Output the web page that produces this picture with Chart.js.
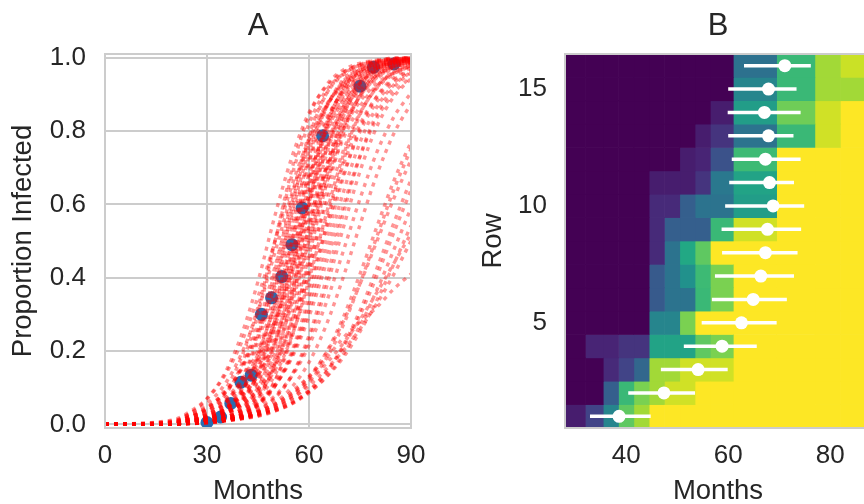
<!DOCTYPE html>
<html>
<head>
<meta charset="utf-8">
<script src="https://cdn.jsdelivr.net/npm/chart.js@4.4.1/dist/chart.umd.min.js"></script>
<style>
  html, body { margin: 0; padding: 0; background: #fff; overflow: hidden; }
  body { width: 864px; height: 504px; position: relative; }
  canvas { position: absolute; top: 0; }
  #chartA { left: 0; }
  #chartB { left: 460px; }
</style>
</head>
<body>
<canvas id="chartA" width="430" height="504"></canvas>
<canvas id="chartB" width="430" height="504"></canvas>
<script>
// ---- panel A: observed proportion + simulated curves ----
const simMonths = [0, 20, 25, 30, 35, 40, 45, 50, 55, 60, 65, 70, 75, 80, 85, 90];
const simCurves = [
    [0, 0.01, 0.03, 0.07, 0.135, 0.24, 0.39, 0.57, 0.73, 0.85, 0.92, 0.96, 0.98, 0.99, 1, 1],
    [0, 0.012, 0.035, 0.07, 0.13, 0.22, 0.348, 0.5, 0.652, 0.777, 0.867, 0.924, 0.958, 0.977, 0.987, 0.993],
    [0, 0.005, 0.02, 0.045, 0.09, 0.18, 0.32, 0.5, 0.68, 0.82, 0.91, 0.955, 0.98, 0.99, 0.995, 1],
    [0, 0.003, 0.015, 0.034, 0.076, 0.159, 0.303, 0.5, 0.697, 0.841, 0.924, 0.966, 0.985, 0.993, 0.997, 1],
    [0, 0.008, 0.03, 0.057, 0.106, 0.19, 0.31, 0.47, 0.63, 0.77, 0.87, 0.925, 0.96, 0.98, 0.99, 0.995],
    [0, 0.002, 0.011, 0.025, 0.056, 0.12, 0.24, 0.42, 0.62, 0.79, 0.9, 0.953, 0.98, 0.99, 0.996, 1],
    [0, 0.005, 0.021, 0.041, 0.081, 0.153, 0.269, 0.43, 0.605, 0.758, 0.865, 0.929, 0.964, 0.982, 0.991, 0.996],
    [0, 0.006, 0.023, 0.044, 0.083, 0.15, 0.256, 0.4, 0.566, 0.717, 0.832, 0.906, 0.949, 0.973, 0.986, 0.993],
    [0, 0.003, 0.013, 0.028, 0.059, 0.119, 0.226, 0.387, 0.577, 0.746, 0.864, 0.932, 0.967, 0.984, 0.993, 0.997],
    [0, 0.001, 0.006, 0.015, 0.037, 0.086, 0.19, 0.367, 0.59, 0.781, 0.899, 0.957, 0.982, 0.993, 0.997, 1],
    [0, 0.007, 0.026, 0.047, 0.085, 0.148, 0.245, 0.378, 0.531, 0.679, 0.798, 0.881, 0.933, 0.963, 0.98, 0.989],
    [0, 0.002, 0.008, 0.018, 0.04, 0.089, 0.182, 0.34, 0.54, 0.73, 0.862, 0.935, 0.971, 0.987, 0.994, 0.997],
    [0, 0.003, 0.014, 0.027, 0.054, 0.105, 0.193, 0.33, 0.5, 0.67, 0.807, 0.895, 0.946, 0.973, 0.986, 0.993],
    [0, 0.002, 0.01, 0.021, 0.044, 0.09, 0.177, 0.317, 0.5, 0.683, 0.823, 0.91, 0.956, 0.979, 0.99, 0.995],
    [0, 0.001, 0.004, 0.01, 0.026, 0.061, 0.14, 0.287, 0.5, 0.713, 0.86, 0.939, 0.974, 0.99, 0.996, 0.998],
    [0, 0.002, 0.008, 0.018, 0.038, 0.079, 0.156, 0.285, 0.46, 0.65, 0.8, 0.896, 0.949, 0.976, 0.989, 0.995],
    [0, 0.001, 0.005, 0.013, 0.029, 0.065, 0.138, 0.269, 0.458, 0.66, 0.818, 0.911, 0.96, 0.982, 0.992, 0.997],
    [0, 0.005, 0.02, 0.037, 0.067, 0.119, 0.202, 0.321, 0.469, 0.622, 0.755, 0.852, 0.915, 0.953, 0.974, 0.986],
    [0, 0.002, 0.01, 0.021, 0.041, 0.081, 0.153, 0.269, 0.43, 0.605, 0.758, 0.865, 0.929, 0.964, 0.982, 0.991],
    [0, 0.003, 0.014, 0.027, 0.051, 0.094, 0.168, 0.283, 0.434, 0.6, 0.744, 0.85, 0.917, 0.956, 0.977, 0.988],
    [0, 0.001, 0.006, 0.016, 0.033, 0.068, 0.136, 0.254, 0.424, 0.613, 0.774, 0.881, 0.941, 0.972, 0.987, 0.994],
    [0, 0.001, 0.003, 0.007, 0.018, 0.043, 0.101, 0.219, 0.41, 0.63, 0.81, 0.914, 0.963, 0.985, 0.994, 0.998],
    [0, 0.001, 0.006, 0.013, 0.028, 0.059, 0.119, 0.226, 0.387, 0.577, 0.746, 0.864, 0.932, 0.967, 0.984, 0.993],
    [0, 0, 0.002, 0.004, 0.01, 0.027, 0.069, 0.168, 0.354, 0.599, 0.802, 0.917, 0.968, 0.988, 0.996, 0.999],
    [0, 0.005, 0.02, 0.036, 0.063, 0.107, 0.178, 0.281, 0.413, 0.559, 0.695, 0.804, 0.881, 0.93, 0.96, 0.977],
    [0, 0.002, 0.007, 0.016, 0.031, 0.062, 0.119, 0.216, 0.361, 0.535, 0.702, 0.828, 0.908, 0.953, 0.976, 0.988],
    [0, 0.003, 0.011, 0.02, 0.039, 0.074, 0.134, 0.231, 0.37, 0.533, 0.69, 0.813, 0.894, 0.943, 0.97, 0.984],
    [0, 0.001, 0.003, 0.008, 0.018, 0.04, 0.089, 0.182, 0.34, 0.54, 0.731, 0.862, 0.935, 0.971, 0.987, 0.994],
    [0, 0.003, 0.011, 0.023, 0.042, 0.076, 0.133, 0.223, 0.348, 0.5, 0.652, 0.777, 0.867, 0.924, 0.958, 0.977],
    [0, 0.002, 0.007, 0.014, 0.027, 0.054, 0.105, 0.193, 0.33, 0.5, 0.67, 0.807, 0.895, 0.946, 0.973, 0.986],
    [0, 0.001, 0.003, 0.007, 0.015, 0.034, 0.076, 0.159, 0.303, 0.5, 0.697, 0.841, 0.924, 0.966, 0.985, 0.993],
    [0, 0.001, 0.002, 0.004, 0.009, 0.022, 0.052, 0.119, 0.251, 0.455, 0.674, 0.837, 0.928, 0.969, 0.987, 0.995],
    [0, 0.001, 0.004, 0.008, 0.018, 0.038, 0.079, 0.156, 0.285, 0.46, 0.65, 0.8, 0.896, 0.949, 0.976, 0.989],
    [0, 0.001, 0.002, 0.005, 0.011, 0.025, 0.056, 0.119, 0.237, 0.417, 0.622, 0.79, 0.897, 0.953, 0.979, 0.991],
    [0, 0.002, 0.007, 0.014, 0.027, 0.051, 0.094, 0.168, 0.283, 0.434, 0.6, 0.744, 0.85, 0.917, 0.956, 0.977],
    [0, 0.001, 0.004, 0.009, 0.018, 0.036, 0.071, 0.135, 0.242, 0.394, 0.571, 0.731, 0.847, 0.919, 0.959, 0.979],
    [0, 0.001, 0.002, 0.005, 0.011, 0.024, 0.051, 0.104, 0.2, 0.35, 0.538, 0.715, 0.844, 0.921, 0.962, 0.982],
    [0, 0.002, 0.008, 0.016, 0.029, 0.053, 0.095, 0.164, 0.269, 0.407, 0.562, 0.706, 0.818, 0.894, 0.94, 0.967],
    [0, 0.002, 0.007, 0.014, 0.026, 0.047, 0.085, 0.148, 0.245, 0.378, 0.531, 0.679, 0.798, 0.881, 0.933, 0.963],
    [0, 0.001, 0.003, 0.007, 0.014, 0.027, 0.054, 0.105, 0.193, 0.33, 0.5, 0.67, 0.807, 0.895, 0.946, 0.973],
    [0, 0.002, 0.004, 0.008, 0.016, 0.03, 0.057, 0.106, 0.187, 0.31, 0.467, 0.63, 0.769, 0.866, 0.926, 0.961],
    [0, 0.001, 0.003, 0.005, 0.009, 0.018, 0.036, 0.071, 0.135, 0.242, 0.394, 0.571, 0.731, 0.847, 0.919, 0.959],
    [0, 0.002, 0.005, 0.009, 0.018, 0.033, 0.06, 0.106, 0.182, 0.294, 0.438, 0.593, 0.731, 0.836, 0.905, 0.947],
    [0, 0.001, 0.003, 0.006, 0.011, 0.02, 0.039, 0.074, 0.134, 0.231, 0.37, 0.533, 0.69, 0.813, 0.894, 0.943],
    [0, 0.002, 0.005, 0.009, 0.015, 0.025, 0.045, 0.078, 0.132, 0.215, 0.33, 0.47, 0.615, 0.743, 0.839, 0.904],
    [0, 0.002, 0.004, 0.007, 0.012, 0.019, 0.034, 0.059, 0.102, 0.169, 0.269, 0.399, 0.544, 0.682, 0.794, 0.874],
    [0, 0.002, 0.004, 0.007, 0.011, 0.017, 0.029, 0.047, 0.078, 0.125, 0.195, 0.29, 0.41, 0.54, 0.665, 0.77],
    [0, 0.002, 0.004, 0.007, 0.01, 0.015, 0.026, 0.043, 0.07, 0.114, 0.178, 0.269, 0.384, 0.513, 0.641, 0.751],
    [0, 0.003, 0.006, 0.01, 0.015, 0.022, 0.034, 0.054, 0.085, 0.13, 0.193, 0.279, 0.383, 0.5, 0.617, 0.721],
    [0, 0.002, 0.004, 0.007, 0.01, 0.015, 0.022, 0.036, 0.057, 0.091, 0.142, 0.214, 0.31, 0.426, 0.55, 0.668],
    [0, 0.002, 0.004, 0.007, 0.011, 0.016, 0.024, 0.038, 0.059, 0.092, 0.141, 0.209, 0.298, 0.406, 0.524, 0.639],
    [0, 0.002, 0.004, 0.007, 0.011, 0.016, 0.024, 0.037, 0.056, 0.086, 0.129, 0.19, 0.269, 0.367, 0.477, 0.59],
    [0, 0.003, 0.005, 0.009, 0.013, 0.019, 0.027, 0.04, 0.06, 0.089, 0.128, 0.182, 0.253, 0.339, 0.438, 0.542],
    [0, 0.002, 0.004, 0.007, 0.012, 0.019, 0.031, 0.05, 0.08, 0.118, 0.165, 0.22, 0.285, 0.36, 0.44, 0.52],
    [0, 0.002, 0.004, 0.007, 0.011, 0.017, 0.028, 0.045, 0.07, 0.105, 0.15, 0.2, 0.26, 0.33, 0.41, 0.5],
    [0, 0.002, 0.004, 0.007, 0.012, 0.02, 0.035, 0.055, 0.09, 0.13, 0.18, 0.235, 0.28, 0.32, 0.37, 0.41]
];
const obsMonths = [30, 34, 37, 40, 43, 46, 49, 52, 55, 58, 64, 75, 79, 85];
const obsProportion = [0.005, 0.02, 0.057, 0.115, 0.134, 0.3, 0.345, 0.403, 0.49, 0.59, 0.787, 0.922, 0.974, 0.983];
const monthTicksA = [0, 30, 60, 90];
const propTicksA = [0, 0.2, 0.4, 0.6, 0.8, 1.0];

// ---- panel B: per-row heatmap + infection month estimate ----
const rowLabels = ['1', '2', '3', '4', '5', '6', '7', '8', '9', '10', '11', '12', '13', '14', '15', '16'];
const rowTickLabels = ['5', '10', '15'];
const cellEdges = [28, 32, 35.5, 38.5, 41.5, 44.5, 47.5, 50.5, 53.5, 56.5, 61, 69.5, 77, 82, 88];
const cellValues = [
    [0.08, 0.2, 0.45, 0.75, 0.86, 1, 1, 1, 1, 1, 1, 1, 1, 1],
    [0, 0, 0.3, 0.67, 0.8, 0.86, 0.93, 0.93, 1, 1, 1, 1, 1, 1],
    [0, 0, 0.12, 0.2, 0.33, 0.86, 0.86, 0.93, 0.93, 0.93, 1, 1, 1, 1],
    [0, 0.1, 0.1, 0.15, 0.15, 0.58, 0.58, 0.58, 0.75, 0.8, 1, 1, 1, 1],
    [0, 0, 0, 0, 0, 0.45, 0.45, 0.8, 1, 1, 1, 1, 1, 1],
    [0, 0, 0, 0, 0, 0.28, 0.38, 0.38, 0.67, 0.8, 1, 1, 1, 1],
    [0, 0, 0, 0, 0, 0.28, 0.38, 0.5, 0.68, 0.8, 1, 1, 1, 1],
    [0, 0, 0, 0, 0, 0.12, 0.38, 0.6, 0.75, 1, 1, 1, 1, 1],
    [0, 0, 0, 0, 0, 0.12, 0.3, 0.3, 0.3, 0.67, 0.93, 1, 1, 1],
    [0, 0, 0, 0, 0, 0.12, 0.12, 0.3, 0.38, 0.38, 0.55, 1, 1, 1],
    [0, 0, 0, 0, 0, 0.08, 0.08, 0.08, 0.15, 0.4, 0.58, 1, 1, 1],
    [0, 0, 0, 0, 0, 0, 0, 0.08, 0.1, 0.25, 0.68, 1, 1, 1],
    [0, 0, 0, 0, 0, 0, 0, 0, 0.08, 0.15, 0.38, 0.67, 0.93, 1],
    [0, 0, 0, 0, 0, 0, 0, 0, 0, 0.08, 0.55, 0.78, 0.93, 1],
    [0, 0, 0, 0, 0, 0, 0, 0, 0, 0, 0.45, 0.67, 0.86, 0.86],
    [0, 0, 0, 0, 0, 0, 0, 0, 0, 0, 0.37, 0.67, 0.86, 0.92]
];
const infectMonth = [38.6, 47.4, 54.1, 58.8, 62.6, 64.9, 66.4, 67.3, 67.7, 68.8, 68.1, 67.3, 67.9, 67.1, 67.9, 71.1];
const infectLow = [32.9, 40.4, 46.8, 51.3, 54.8, 56.8, 57.4, 58.8, 58.7, 59.4, 60.2, 60.7, 60.0, 59.9, 60.0, 63.1];
const infectHigh = [44.8, 53.5, 59.9, 65.6, 69.5, 71.5, 72.9, 73.6, 74.3, 74.9, 72.9, 74.2, 72.8, 74.2, 73.4, 76.2];
const monthTicksB = [40, 60, 80];

const ink = '#262626';
const gridGray = '#cccccc';
const fontFamily = '"Liberation Sans", Arial, sans-serif';

const viridisStops = ['#440154', '#482475', '#414487', '#355f8d', '#2a788e', '#21918c',
    '#22a884', '#44bf70', '#7ad151', '#bddf26', '#fde725'];

function hexToRgb(h) {
    return [1, 3, 5].map(i => parseInt(h.slice(i, i + 2), 16));
}

function viridis(t) {
    const pos = Math.min(Math.max(t, 0), 1) * (viridisStops.length - 1);
    const i = Math.min(Math.floor(pos), viridisStops.length - 2);
    const f = pos - i;
    const a = hexToRgb(viridisStops[i]);
    const b = hexToRgb(viridisStops[i + 1]);
    const c = a.map((v, k) => Math.round(v + (b[k] - v) * f));
    return 'rgb(' + c.join(',') + ')';
}

// light gray box round the plot area, like the seaborn spines
const framePlugin = {
    id: 'frame',
    afterDatasetsDraw(chart) {
        const { ctx, chartArea: a } = chart;
        ctx.save();
        ctx.strokeStyle = gridGray;
        ctx.lineWidth = 2;
        ctx.strokeRect(a.left, a.top, a.right - a.left, a.bottom - a.top);
        ctx.restore();
    }
};

// fixed axis sizes so both panels line up with the reference
function fitX(axis) {
    axis.height = 76;
    axis.paddingLeft = 0;
    axis.paddingRight = 0;
}

function fitY(axis) {
    axis.width = 105;
    axis.paddingTop = 0;
    axis.paddingBottom = 0;
}

const tickFont = { family: fontFamily, size: 26 };
const labelFont = { family: fontFamily, size: 27.5, lineHeight: 0.9 };
const titleFont = { family: fontFamily, size: 31, weight: 'normal' };

new Chart(document.getElementById('chartA'), {
    type: 'line',
    data: {
        datasets: [
            ...simCurves.map(curve => ({
                data: curve.map((v, i) => ({ x: simMonths[i], y: v })),
                borderColor: 'rgba(255, 0, 0, 0.42)',
                borderWidth: 3.4,
                borderDash: [4, 5],
                borderCapStyle: 'butt',
                pointRadius: 0,
                cubicInterpolationMode: 'monotone',
                order: 0
            })),
            {
                type: 'scatter',
                data: obsMonths.map((m, i) => ({ x: m, y: obsProportion[i] })),
                backgroundColor: '#2a6db0',
                borderWidth: 0,
                pointRadius: 6.5,
                order: 1
            }
        ]
    },
    options: {
        responsive: false,
        animation: false,
        events: [],
        layout: { padding: { right: 19 } },
        plugins: {
            legend: { display: false },
            tooltip: { enabled: false },
            title: {
                display: true,
                text: 'A',
                fullSize: false,
                color: ink,
                font: titleFont,
                padding: { top: 8, bottom: 8.8 }
            }
        },
        scales: {
            x: {
                type: 'linear',
                min: 0,
                max: 90,
                afterBuildTicks: axis => { axis.ticks = monthTicksA.map(v => ({ value: v })); },
                afterFit: fitX,
                grid: { color: gridGray, lineWidth: 2, drawTicks: false },
                border: { display: false },
                ticks: { color: ink, font: tickFont, padding: 12, maxRotation: 0 },
                title: { display: true, text: 'Months', color: ink, font: labelFont, padding: 0 }
            },
            y: {
                type: 'linear',
                min: -0.01,
                max: 1.01,
                afterBuildTicks: axis => { axis.ticks = propTicksA.map(v => ({ value: v })); },
                afterFit: fitY,
                grid: { color: gridGray, lineWidth: 2, drawTicks: false },
                border: { display: false },
                ticks: { color: ink, font: tickFont, padding: 19, callback: v => v.toFixed(1) },
                title: {
                    display: true,
                    text: 'Proportion Infected',
                    color: ink,
                    font: { family: fontFamily, size: 27.5 },
                    padding: { top: 6.5, bottom: 0 }
                }
            }
        }
    },
    plugins: [framePlugin]
});

const cellSets = obsMonths.map((m, c) => ({
    type: 'bar',
    indexAxis: 'y',
    data: rowLabels.map(() => [cellEdges[c], cellEdges[c + 1]]),
    backgroundColor: rowLabels.map((r, i) => viridis(cellValues[i][c])),
    borderWidth: 0,
    grouped: false,
    barPercentage: 1,
    categoryPercentage: 1,
    order: 3
}));

const errorSets = rowLabels.map((r, i) => ({
    type: 'line',
    data: [{ x: infectLow[i], y: r }, { x: infectHigh[i], y: r }],
    borderColor: '#ffffff',
    borderWidth: 3.5,
    pointRadius: 0,
    order: 2
}));

new Chart(document.getElementById('chartB'), {
    type: 'bar',
    data: {
        labels: rowLabels,
        datasets: [
            ...cellSets,
            ...errorSets,
            {
                type: 'scatter',
                data: rowLabels.map((r, i) => ({ x: infectMonth[i], y: r })),
                backgroundColor: '#ffffff',
                borderWidth: 0,
                pointRadius: 6.5,
                order: 1
            }
        ]
    },
    options: {
        indexAxis: 'y',
        responsive: false,
        animation: false,
        events: [],
        layout: { padding: { right: 19 } },
        plugins: {
            legend: { display: false },
            tooltip: { enabled: false },
            title: {
                display: true,
                text: 'B',
                fullSize: false,
                color: ink,
                font: titleFont,
                padding: { top: 8, bottom: 8.8 }
            }
        },
        scales: {
            x: {
                type: 'linear',
                min: 28,
                max: 88,
                offset: false,
                afterBuildTicks: axis => { axis.ticks = monthTicksB.map(v => ({ value: v })); },
                afterFit: fitX,
                grid: { display: false, drawTicks: false },
                border: { display: false },
                ticks: { color: ink, font: tickFont, padding: 12, maxRotation: 0 },
                title: { display: true, text: 'Months', color: ink, font: labelFont, padding: 0 }
            },
            y: {
                type: 'category',
                reverse: true,
                offset: true,
                afterBuildTicks: axis => {
                    axis.ticks = rowTickLabels.map(l => ({ value: rowLabels.indexOf(l) }));
                },
                afterFit: fitY,
                grid: { display: false, drawTicks: false },
                border: { display: false },
                ticks: { color: ink, font: tickFont, padding: 18, autoSkip: false },
                title: {
                    display: true,
                    text: 'Row',
                    color: ink,
                    font: { family: fontFamily, size: 27.5 },
                    padding: { top: 16.5, bottom: 0 }
                }
            }
        }
    },
    plugins: [framePlugin]
});
</script>
</body>
</html>
